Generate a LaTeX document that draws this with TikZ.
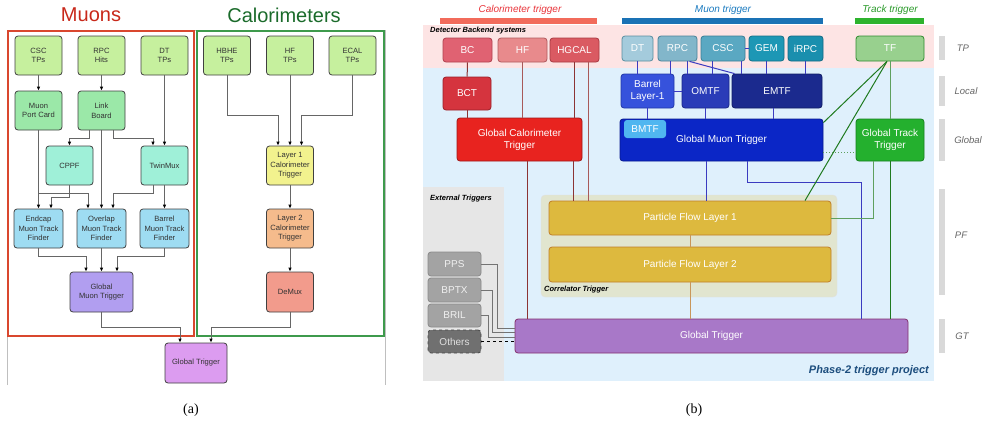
\documentclass[tikz,border=0pt]{standalone}
\usepackage{fontspec}
\setmainfont{Liberation Serif}
\setsansfont{Liberation Sans}
\usetikzlibrary{arrows.meta,positioning}

% colours of (a)
\definecolor{muonred}{HTML}{C8281A}
\definecolor{muonframe}{HTML}{D9472E}
\definecolor{calogreen}{HTML}{1B6B2B}
\definecolor{caloframe}{HTML}{3E9A4C}
\definecolor{tpfill}{HTML}{C6F09E}
\definecolor{stubfill}{HTML}{9BE8A8}
\definecolor{concfill}{HTML}{9FF0D8}
\definecolor{tffill}{HTML}{9EDCF2}
\definecolor{gmtfill}{HTML}{B19EF0}
\definecolor{lonefill}{HTML}{F2F28E}
\definecolor{ltwofill}{HTML}{F5BB8C}
\definecolor{demuxfill}{HTML}{F29B8C}
\definecolor{gtfill}{HTML}{DC9CF0}
% colours of (b)
\definecolor{bandpink}{HTML}{FDE4E4}
\definecolor{bandblue}{HTML}{DFF0FC}
\definecolor{bandgray}{HTML}{E6E6E6}
\definecolor{corrfill}{HTML}{E1E5CF}
\definecolor{calohead}{HTML}{E8343A}
\definecolor{calobar}{HTML}{F26B5B}
\definecolor{muonhead}{HTML}{1A7ABF}
\definecolor{muonbar}{HTML}{1A72B5}
\definecolor{trackhead}{HTML}{2A9A2A}
\definecolor{trackbar}{HTML}{2DB32D}
\definecolor{projblue}{HTML}{1D4E7E}
\definecolor{calline}{HTML}{8C3434}
\definecolor{hgline}{HTML}{A85A5A}
\definecolor{muline}{HTML}{3B3BC0}
\definecolor{pfline}{HTML}{C8965A}
\definecolor{trline}{HTML}{1F7A1F}
\definecolor{trlight}{HTML}{5EA05E}

\tikzstyle{lbox}=[rectangle,rounded corners=3pt,draw=black!75,line width=0.8pt,
minimum width=47pt,minimum height=39pt,inner sep=1pt,align=center,
font=\sffamily\fontsize{7.6}{9.6}\selectfont,text=black!80]
\tikzstyle{conn}=[draw=black!60,line width=0.8pt,-{Latex[length=4pt,width=3.6pt,color=black]}]
\tikzstyle{rbox}=[rectangle,rounded corners=3pt,line width=0.8pt,inner sep=1pt,
align=center,font=\sffamily\fontsize{10}{12}\selectfont,text=white]
\tikzstyle{ebox}=[rbox,fill=black!36,draw=black!46,minimum width=53pt,text=black!6]
\tikzstyle{tag}=[font=\sffamily\bfseries\itshape\fontsize{7.5}{9}\selectfont,anchor=west,inner sep=0pt]
\tikzstyle{head}=[font=\sffamily\itshape\fontsize{10}{12}\selectfont,inner sep=0pt]
\tikzstyle{layer}=[font=\sffamily\itshape\fontsize{9.5}{11}\selectfont,text=black!60,inner sep=0pt]
\tikzstyle{wire}=[line width=1pt]

\begin{document}
\begin{tikzpicture}[x=1pt,y=-1pt]
            \useasboundingbox (0,0) rectangle (991,429);

            % (a) L1 trigger of Run 2

            \node[font=\sffamily\fontsize{20}{24}\selectfont,text=muonred] (tmuon) at (91,15) {Muons};
            \node[font=\sffamily\fontsize{20}{24}\selectfont,text=calogreen] (tcalo) at (284,15) {Calorimeters};
            \draw[black!25,line width=0.8pt] (7,385) -- (7,30) -- (385,30) -- (385,385);
            \draw[muonframe,line width=1.2pt] (8,31) rectangle (194,336);
            \draw[caloframe,line width=1.2pt] (197,31) rectangle (384,336);

            \node[lbox,fill=tpfill] (csc) at (38.5,55.5) {CSC\\TPs};
            \node[lbox,fill=tpfill] (rpc) at (101.5,55.5) {RPC\\Hits};
            \node[lbox,fill=tpfill] (dt) at (164.5,55.5) {DT\\TPs};
            \node[lbox,fill=stubfill] (mpc) at (38.5,110.5) {Muon\\Port Card};
            \node[lbox,fill=stubfill] (lb) at (101.5,110.5) {Link\\Board};
            \node[lbox,fill=concfill] (cppf) at (69.5,165.5) {CPPF};
            \node[lbox,fill=concfill] (tmux) at (164.5,165.5) {TwinMux};
            \node[lbox,fill=tffill,minimum width=49pt] (ecap) at (38.5,228.5) {Endcap\\Muon Track\\Finder};
            \node[lbox,fill=tffill,minimum width=49pt] (ovl) at (101.5,228.5) {Overlap\\Muon Track\\Finder};
            \node[lbox,fill=tffill,minimum width=49pt] (bar) at (164.5,228.5) {Barrel\\Muon Track\\Finder};
            \node[lbox,fill=gmtfill,minimum width=63pt,minimum height=40pt] (gmt) at (101.5,292) {Global\\Muon Trigger};

            \node[lbox,fill=tpfill] (hbhe) at (227,55.5) {HBHE\\TPs};
            \node[lbox,fill=tpfill] (hfa) at (290,55.5) {HF\\TPs};
            \node[lbox,fill=tpfill] (ecal) at (352.5,55.5) {ECAL\\TPs};
            \node[lbox,fill=lonefill] (lone) at (290,165.5) {Layer 1\\Calorimeter\\Trigger};
            \node[lbox,fill=ltwofill] (ltwo) at (290,228.5) {Layer 2\\Calorimeter\\Trigger};
            \node[lbox,fill=demuxfill,minimum height=40pt] (demux) at (290,292) {DeMux};
            \node[lbox,fill=gtfill,minimum width=62pt,minimum height=40pt] (gt) at (196,363) {Global Trigger};

            \path[conn] (csc) edge (mpc);
            \path[conn] (rpc) edge (lb);
            \path[conn] (dt) edge (tmux);
            \draw[conn] ([xshift=-12.5pt]lb.south) -- ++(0,8) -| (cppf.north);
            \draw[conn] ([xshift=11.5pt]lb.south) -- ++(0,8) -| ([xshift=-11.5pt]tmux.north);
            \path[conn] (lb) edge (ovl);
            \path[conn] (mpc) edge (ecap);
            \draw[conn] (mpc.south) -- ++(0,63) -| ([xshift=-13.5pt]ovl.north);
            \draw[conn] (cppf.south) -- ++(0,12) -| ([xshift=12.5pt]ecap.north);
            \draw[conn] ([xshift=-11.5pt]tmux.south) -- ++(0,8) -| ([xshift=11.5pt]ovl.north);
            \path[conn] (tmux) edge (bar);
            \draw[conn] (ecap.south) -- ++(0,8) -| ([xshift=-15.5pt]gmt.north);
            \path[conn] (ovl) edge (gmt);
            \draw[conn] (bar.south) -- ++(0,8) -| ([xshift=15.5pt]gmt.north);
            \draw[conn] (gmt.south) -- ++(0,15) -| ([xshift=-16pt]gt.north);

            \draw[conn] (hbhe.south) -- ++(0,40) -| ([xshift=-12pt]lone.north);
            \path[conn] (hfa) edge (lone);
            \draw[conn] (ecal.south) -- ++(0,40) -| ([xshift=11.5pt]lone.north);
            \path[conn] (lone) edge (ltwo);
            \path[conn] (ltwo) edge (demux);
            \draw[conn] (demux.south) -- ++(0,15) -| ([xshift=15pt]gt.north);

            % (b) Phase-2 trigger

            \fill[bandpink] (423,25) rectangle (934,68);
            \fill[bandblue] (423,68) rectangle (934,381);
            \fill[bandgray] (423,187) rectangle (504,381);
            \filldraw[fill=corrfill,draw=black!12,rounded corners=4pt] (541,195) rectangle (837,297);

            \node[head,text=calohead] (hcalo) at (520,10) {Calorimeter trigger};
            \node[head,text=muonhead] (hmuon) at (723,10) {Muon trigger};
            \node[head,text=trackhead] (htrack) at (890,10) {Track trigger};
            \fill[calobar] (440,18) rectangle (597,24);
            \fill[muonbar] (622,18) rectangle (823,24);
            \fill[trackbar] (855,18) rectangle (924,24);

            \node[tag] (tdet) at (430,31) {Detector Backend systems};
            \node[tag] (text) at (430,199) {External Triggers};
            \node[tag] (tcorr) at (544,290) {Correlator Trigger};
            \node[font=\sffamily\bfseries\itshape\fontsize{11}{13}\selectfont,text=projblue,anchor=east,inner sep=0pt] (tproj) at (929,371) {Phase-2 trigger project};

            % layer tags
            \fill[black!15] (939,36) rectangle (945,60);
            \fill[black!15] (939,76) rectangle (945,106);
            \fill[black!15] (939,119) rectangle (945,161);
            \fill[black!15] (939,189) rectangle (945,295);
            \fill[black!15] (939,319) rectangle (945,353);
            \node[layer] (ltp) at (963,48) {TP};
            \node[layer] (llocal) at (966,91) {Local};
            \node[layer] (lglobal) at (968,140) {Global};
            \node[layer] (lpf) at (961,235) {PF};
            \node[layer] (lgt) at (962,336) {GT};

            % calorimeter boxes
            \node[rbox,fill={rgb,255:red,224;green,98;blue,114},draw={rgb,255:red,176;green,64;blue,78},minimum width=49pt,minimum height=24pt] (bc) at (467.5,50) {BC};
            \node[rbox,fill={rgb,255:red,232;green,138;blue,140},draw={rgb,255:red,176;green,90;blue,94},minimum width=49pt,minimum height=24pt] (hfb) at (522.5,50) {HF};
            \node[rbox,fill={rgb,255:red,218;green,90;blue,98},draw={rgb,255:red,168;green,58;blue,66},minimum width=49pt,minimum height=24pt] (hgcal) at (574.5,50) {HGCAL};
            \node[rbox,fill={rgb,255:red,213;green,52;blue,62},draw={rgb,255:red,154;green,32;blue,40},minimum width=48pt,minimum height=33pt] (bct) at (467,93.5) {BCT};
            \node[rbox,fill={rgb,255:red,232;green,35;blue,31},draw={rgb,255:red,160;green,24;blue,24},minimum width=125pt,minimum height=43pt] (gct) at (519.5,139.5) {Global Calorimeter\\Trigger};

            % muon boxes
            \node[rbox,fill={rgb,255:red,164;green,203;blue,220},draw={rgb,255:red,90;green,142;blue,160},minimum width=31pt,minimum height=25pt] (dtb) at (637.5,48.5) {DT};
            \node[rbox,fill={rgb,255:red,130;green,182;blue,202},draw={rgb,255:red,74;green,130;blue,152},minimum width=39pt,minimum height=25pt] (rpcb) at (677.5,48.5) {RPC};
            \node[rbox,fill={rgb,255:red,90;green,168;blue,194},draw={rgb,255:red,58;green,126;blue,150},minimum width=44pt,minimum height=25pt] (cscb) at (723,48.5) {CSC};
            \node[rbox,fill={rgb,255:red,29;green,151;blue,181},draw={rgb,255:red,19;green,112;blue,136},minimum width=35pt,minimum height=25pt] (gem) at (766.5,48.5) {GEM};
            \node[rbox,fill={rgb,255:red,26;green,143;blue,174},draw={rgb,255:red,18;green,106;blue,132},minimum width=35pt,minimum height=25pt] (irpc) at (805.5,48.5) {iRPC};
            \node[rbox,fill={rgb,255:red,54;green,82;blue,220},draw={rgb,255:red,34;green,56;blue,168},minimum width=53pt,minimum height=34pt] (bl1) at (647.5,91) {Barrel\\Layer-1};
            \node[rbox,fill={rgb,255:red,42;green,60;blue,184},draw={rgb,255:red,26;green,40;blue,136},minimum width=47pt,minimum height=34pt] (omtf) at (705.5,91) {OMTF};
            \node[rbox,fill={rgb,255:red,27;green,42;blue,142},draw={rgb,255:red,16;green,28;blue,102},minimum width=90pt,minimum height=34pt] (emtf) at (777,91) {EMTF};
            \node[rbox,fill={rgb,255:red,11;green,38;blue,198},draw={rgb,255:red,8;green,26;blue,144},minimum width=203pt,minimum height=42pt] (gmtb) at (721.5,140) {Global Muon Trigger};
            \node[rbox,fill={rgb,255:red,80;green,182;blue,240},minimum width=42pt,minimum height=18pt] (bmtf) at (645,129) {BMTF};

            % track boxes
            \node[rbox,fill={rgb,255:red,152;green,208;blue,142},draw={rgb,255:red,47;green,138;blue,47},minimum width=68pt,minimum height=25pt] (tf) at (890,48.5) {TF};
            \node[rbox,fill={rgb,255:red,36;green,176;blue,46},draw={rgb,255:red,23;green,128;blue,30},minimum width=68pt,minimum height=42pt] (gtt) at (890,140) {Global Track\\Trigger};

            % correlator and global trigger
            \node[rbox,fill={rgb,255:red,221;green,185;blue,62},draw={rgb,255:red,192;green,126;blue,42},minimum width=282pt,minimum height=34pt] (pfone) at (690,218) {Particle Flow Layer 1};
            \node[rbox,fill={rgb,255:red,221;green,185;blue,62},draw={rgb,255:red,192;green,126;blue,42},minimum width=282pt,minimum height=35pt] (pftwo) at (690,264.5) {Particle Flow Layer 2};
            \node[rbox,fill={rgb,255:red,168;green,120;blue,200},draw={rgb,255:red,132;green,48;blue,110},minimum width=393pt,minimum height=34pt] (gtb) at (711.5,336) {Global Trigger};

            % external triggers
            \node[ebox,minimum height=24pt] (pps) at (454.5,264) {PPS};
            \node[ebox,minimum height=24pt] (bptx) at (454.5,290) {BPTX};
            \node[ebox,minimum height=23pt] (bril) at (454.5,315.5) {BRIL};
            \node[ebox,fill=black!56,draw=black!72,dashed,minimum height=23pt,text=black!12] (others) at (454.5,341.5) {Others};

            % calorimeter connections
            \draw[wire,calline] (bc) -- (bct);
            \draw[wire,calline] (bct) -- (bct |- gct.north);
            \draw[wire,hgline] (hfb.south) -- (hfb.south |- gct.north);
            \draw[wire,calline] (hgcal.south) -- (hgcal.south |- gct.north);
            \draw[wire,hgline] ([xshift=13.5pt]hgcal.south) -- ([xshift=13.5pt]hgcal.south |- pfone.north);
            \draw[wire,calline] ([xshift=53.5pt]gct.south) -- ([xshift=53.5pt]gct.south |- pfone.north);
            \draw[wire,calline] ([xshift=7.5pt]gct.south) -- ([xshift=7.5pt]gct.south |- gtb.north);

            % muon connections
            \draw[wire,muline] (dtb.south) -- (dtb.south |- bl1.north);
            \draw[wire,muline] ([xshift=-7.5pt]rpcb.south) -- ([xshift=-7.5pt]rpcb.south |- bl1.north);
            \draw[wire,muline] ([xshift=9.5pt]rpcb.south) -- ([xshift=9.5pt]rpcb.south |- omtf.north);
            \draw[wire,muline] ([xshift=12pt]rpcb.south) -- ([xshift=3pt]emtf.north west);
            \draw[wire,muline] ([xshift=-11pt]cscb.south) -- ([xshift=-11pt]cscb.south |- omtf.north);
            \draw[wire,muline] ([xshift=18pt]cscb.south) -- ([xshift=18pt]cscb.south |- emtf.north);
            \draw[wire,muline] (cscb) -- (gem);
            \draw[wire,muline] (gem.south) -- (gem.south |- emtf.north);
            \draw[wire,muline] (irpc.south) -- (irpc.south |- emtf.north);
            \draw[wire,muline] (bl1) -- (omtf);
            \draw[wire,muline] (bl1.south) -- (bl1.south |- gmtb.north);
            \draw[wire,muline] (omtf.south) -- (omtf.south |- gmtb.north);
            \draw[wire,muline] ([xshift=-4pt]emtf.south) -- ([xshift=-4pt]emtf.south |- gmtb.north);
            \draw[wire,muline] ([xshift=-15.5pt]gmtb.south) -- ([xshift=-15.5pt]gmtb.south |- pfone.north);
            \draw[wire,muline] ([xshift=25.5pt]gmtb.south) -- ++(0,21) -| ([xshift=149.5pt]gtb.north);

            % track connections
            \draw[wire,trlight] (tf) -- (gtt);
            \draw[wire,trline] ([xshift=-3pt]tf.south) -- ([yshift=-4pt]gmtb.north east);
            \draw[wire,trline] ([xshift=-3pt]tf.south) -- ([xshift=115pt]pfone.north);
            \draw[wire,trlight] ([xshift=-17pt]gtt.south) |- (pfone.east);
            \draw[wire,trline] (gtt.south) -- (gtt.south |- gtb.north);
            \draw[wire,dotted,trlight] ([yshift=-12pt]gmtb.east) -- ([yshift=-12pt]gtt.west);

            % correlator connections
            \draw[wire,pfline] (pfone) -- (pftwo);
            \draw[wire,pfline] (pftwo.south) -- (pftwo.south |- gtb.north);

            % external connections
            \draw[wire,black!55] (pps.east) -- ++(16,0) |- ([yshift=8pt]gtb.west);
            \draw[wire,black!55] (bptx.east) -- ++(11,0) |- ([yshift=4pt]gtb.west);
            \draw[wire,black!55] (bril.east) -- ++(7,0) |- ([yshift=-1pt]gtb.west);
            \draw[wire,black,dashed] (others) -- (others -| gtb.west);

            % captions
            \node[font=\fontsize{14}{16}\selectfont] (capa) at (191,410) {(a)};
            \node[font=\fontsize{14}{16}\selectfont] (capb) at (694,410) {(b)};

\end{tikzpicture}
\end{document}
